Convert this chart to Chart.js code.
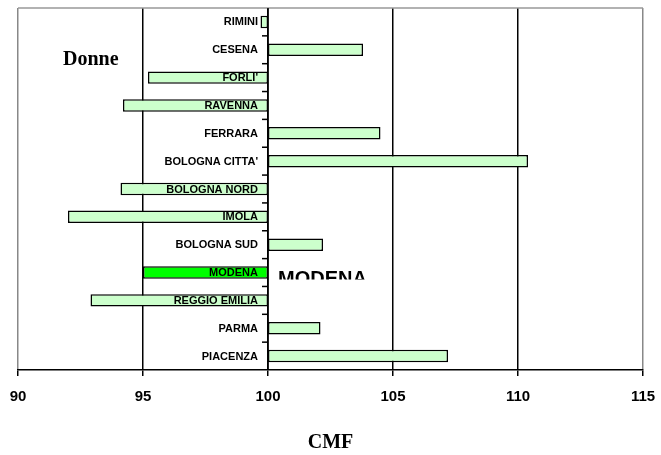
<!DOCTYPE html>
<html>
<head>
<meta charset="utf-8">
<script src="https://cdn.jsdelivr.net/npm/chart.js@4.4.0/dist/chart.umd.min.js"></script>
<style>
  body { margin: 0; background: #fff; }
  #wrap { width: 661px; height: 455px; }
</style>
</head>
<body>
<div id="wrap"><canvas id="cmfChart" width="661" height="455"></canvas></div>
<script>
// data
const districts = ['RIMINI', 'CESENA', "FORLI'", 'RAVENNA', 'FERRARA', "BOLOGNA CITTA'",
  'BOLOGNA NORD', 'IMOLA', 'BOLOGNA SUD', 'MODENA', 'REGGIO EMILIA', 'PARMA', 'PIACENZA'];
const cmfValues = [99.7, 103.8, 95.2, 94.2, 104.5, 110.4, 94.1, 92.0, 102.2, 95.0, 92.9, 102.1, 107.2];
const baseValue = 100;
const xTicks = [90, 95, 100, 105, 110, 115];
const highlighted = 'MODENA';
const chartLabel = 'Donne';
const axisTitle = 'CMF';

document.addEventListener('DOMContentLoaded', () => {
  const ctx = document.getElementById('cmfChart');

  // axis at 100 with its little ticks, labels next to it, and the free texts
  const overlay = {
    id: 'overlay',
    afterDatasetsDraw(chart) {
      const c = chart.ctx;
      const x = chart.scales.x, y = chart.scales.y;
      const area = chart.chartArea;
      const x0 = x.getPixelForValue(baseValue);
      c.save();
      // top border of the plot area
      c.strokeStyle = '#999';
      c.lineWidth = 1.5;
      c.beginPath();
      c.moveTo(area.left, area.top);
      c.lineTo(area.right, area.top);
      c.stroke();
      // category axis
      c.strokeStyle = '#000';
      c.beginPath();
      c.moveTo(x0, area.top);
      c.lineTo(x0, area.bottom);
      c.stroke();
      const step = (y.getPixelForValue(1) - y.getPixelForValue(0));
      for (let i = 1; i < districts.length; i++) {
        const py = y.getPixelForValue(i) - step / 2;
        c.beginPath();
        c.moveTo(x0 - 6, py);
        c.lineTo(x0, py);
        c.stroke();
      }
      // district labels
      c.fillStyle = '#000';
      c.font = 'bold 11px "Liberation Sans", Arial, sans-serif';
      c.textAlign = 'right';
      c.textBaseline = 'middle';
      districts.forEach((d, i) => {
        c.fillText(d, x0 - 10, y.getPixelForValue(i) + 0.5);
      });
      // chart label
      c.textAlign = 'left';
      c.font = 'bold 20px "Liberation Serif", "Times New Roman", serif';
      c.fillText(chartLabel, x.getPixelForValue(91.8), y.getPixelForValue(1.35));
      // highlighted name, cut off at the bottom like the original
      const hy = y.getPixelForValue(districts.indexOf(highlighted));
      c.save();
      c.beginPath();
      c.rect(x0, hy - 12, 200, 19);
      c.clip();
      c.font = 'bold 20px "Liberation Sans", Arial, sans-serif';
      c.textBaseline = 'top';
      c.fillText(highlighted, x0 + 10, hy - 3);
      c.restore();
      c.restore();
    }
  };

  new Chart(ctx, {
    type: 'bar',
    data: {
      labels: districts,
      datasets: [{
        label: axisTitle,
        data: cmfValues.map(v => [baseValue, v]),
        backgroundColor: districts.map(d => d === highlighted ? '#00ff00' : '#ccffcc'),
        borderColor: '#000',
        borderWidth: 1.5,
        borderSkipped: false,
        barPercentage: 0.8,
        categoryPercentage: 0.56
      }]
    },
    options: {
      indexAxis: 'y',
      responsive: false,
      animation: false,
      layout: { padding: { left: 18, right: 18, top: 8, bottom: 0 } },
      plugins: { legend: { display: false }, tooltip: { enabled: false } },
      scales: {
        x: {
          min: 90,
          max: 115,
          afterBuildTicks(scale) { scale.ticks = xTicks.map(v => ({ value: v })); },
          afterFit(scale) {
            scale.height = 85;
            scale.paddingLeft = 0;
            scale.paddingRight = 0;
          },
          grid: {
            color: c => (c.tick && (c.tick.value === 90 || c.tick.value === 115)) ? '#888' : '#000',
            lineWidth: 1.5,
            tickColor: '#000',
            tickLength: 6
          },
          border: { color: '#000', width: 1.5 },
          ticks: {
            color: '#000',
            padding: 12,
            font: { family: '"Liberation Sans", Arial, sans-serif', size: 15, weight: 'bold' }
          },
          title: {
            display: true,
            text: axisTitle,
            color: '#000',
            padding: { top: 4, bottom: 0 },
            font: { family: '"Liberation Serif", "Times New Roman", serif', size: 20, weight: 'bold' }
          }
        },
        y: {
          display: false,
          offset: true
        }
      }
    },
    plugins: [overlay]
  });
});
</script>
</body>
</html>
